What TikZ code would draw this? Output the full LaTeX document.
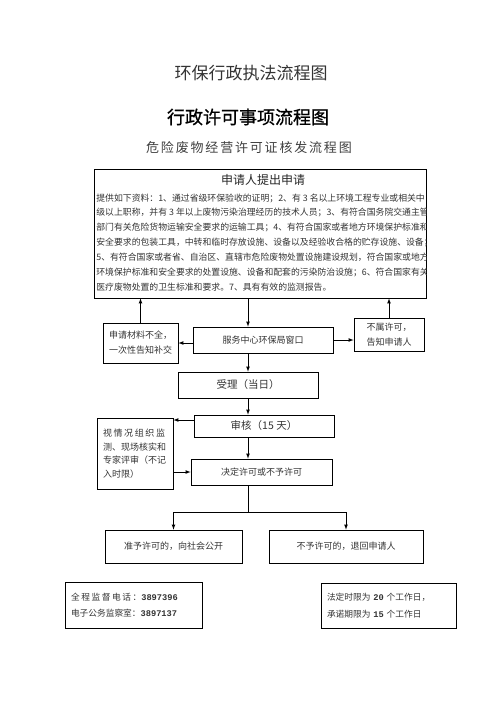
\documentclass[tikz,border=0pt]{standalone}
\usepackage{fontspec}
\setmainfont{Noto Sans CJK SC}
\newfontfamily\spacedfont[LetterSpace=18]{Noto Sans CJK SC}
\newfontfamily\widefont[LetterSpace=14]{Noto Sans CJK SC}
\newfontfamily\boldfont[FakeBold=0.8]{Noto Sans CJK SC}
\newfontfamily\numfont{Liberation Mono}
\usepackage{tikz}
\usetikzlibrary{arrows}
\tikzset{every picture/.style={line width=0.75pt}}
\tikzset{
  box/.style={draw, inner sep=1pt, align=center, text=black!80, font=\fontsize{9}{15}\selectfont},
  textline/.style={anchor=west, inner sep=0pt, text=black!80, font=\fontsize{8.85}{9}\selectfont},
  arr/.style={-latex}
}

\begin{document}
\begin{tikzpicture}[x=1pt,y=1pt,yscale=-1,xscale=1]
    \useasboundingbox (0,0) rectangle (496,702);
    \node (t1) at (251,73) [text=black!80, font=\fontsize{17}{17}\selectfont] {环保行政执法流程图};
    \node (t2) at (248,117) [font=\boldfont\fontsize{18}{18}\selectfont] {行政许可事项流程图};
    \node (t3) at (249,148) [text=black!75, font=\widefont\fontsize{13}{13}\selectfont] {危险废物经营许可证核发流程图};
    \node (apply) at (260,233.5) [draw, minimum width=332pt, minimum height=129pt] {};
    \node (head) at (263,180) [text=black!85, font=\fontsize{12}{12}\selectfont] {申请人提出申请};
    \begin{scope}
    \clip (apply.north west) rectangle (apply.south east);
    \node (l1) at (96,198) [textline] {提供如下资料：1、通过省级环保验收的证明；2、有 3 名以上环境工程专业或相关中};
    \node (l2) at (96,212.8) [textline] {级以上职称，并有 3 年以上废物污染治理经历的技术人员；3、有符合国务院交通主管};
    \node (l3) at (96,227.6) [textline] {部门有关危险货物运输安全要求的运输工具；4、有符合国家或者地方环境保护标准和};
    \node (l4) at (96,242.4) [textline] {安全要求的包装工具，中转和临时存放设施、设备以及经验收合格的贮存设施、设备；};
    \node (l5) at (96,257.2) [textline] {5、有符合国家或者省、自治区、直辖市危险废物处置设施建设规划，符合国家或地方};
    \node (l6) at (96,272) [textline] {环境保护标准和安全要求的处置设施、设备和配套的污染防治设施；6、符合国家有关};
    \node (l7) at (96,286.8) [textline] {医疗废物处置的卫生标准和要求。7、具有有效的监测报告。};
    \end{scope}
    \node (lack) at (140.5,343) [box, minimum width=75pt, minimum height=40pt] {申请材料不全，\\一次性告知补交};
    \node (window) at (263,340) [box, minimum width=140pt, minimum height=26pt] {服务中心环保局窗口};
    \node (notlic) at (389,334.5) [box, minimum width=70pt, minimum height=33pt] {不属许可，\\告知申请人};
    \node (accept) at (248,385) [box, minimum width=140pt, minimum height=26pt, font=\fontsize{10.5}{12}\selectfont] {受理（当日）};
    \node (review) at (264,426) [box, minimum width=140pt, minimum height=22pt, font=\fontsize{10.5}{12}\selectfont] {审核（15 天）};
    \node (expert) at (135,453.5) [box, text width=64pt, inner xsep=6pt, minimum height=71pt, align=left, font=\fontsize{9}{13.7}\selectfont] {{\spacedfont 视情况组织监}\\测、现场核实和\\专家评审（不记\\入时限）};
    \node (decide) at (261.5,472) [box, minimum width=141pt, minimum height=26pt] {决定许可或不予许可};
    \coordinate (split) at (248,512);
    \node (grant) at (173.5,546.5) [box, minimum width=137pt, minimum height=33pt] {准予许可的，向社会公开};
    \node (refuse) at (346,546.5) [box, minimum width=154pt, minimum height=33pt] {不予许可的，退回申请人};
    \node (phone) at (133.5,605) [box, text width=125pt, inner xsep=6pt, minimum height=46pt, align=left, font=\fontsize{8.7}{16.5}\selectfont] {{\spacedfont 全程监督电话：}{\numfont\bfseries 3897396}\\电子公务监察室：{\numfont\bfseries 3897137}};
    \node (limit) at (388.5,605.5) [box, text width=123pt, inner xsep=6pt, minimum height=45pt, align=left, font=\fontsize{8.7}{16.5}\selectfont] {法定时限为 {\numfont\bfseries 20} 个工作日，\\承诺期限为 {\numfont\bfseries 15} 个工作日};
    \draw[arr] (apply.south -| accept) -- (window.north -| accept);
    \draw[arr] (window.west |- lack) -- (lack.east);
    \draw[arr] (window.east) -- (notlic.west |- window.east);
    \draw[arr] (lack.north) -- (lack.north |- apply.south);
    \draw[arr] (notlic.north) -- (notlic.north |- apply.south);
    \draw[arr] (window.south -| accept) -- (accept.north);
    \draw[arr] (accept.south) -- (review.north -| accept);
    \draw[arr] ([yshift=-6pt]review.west) -- ([yshift=-6pt]review.west -| expert.east);
    \draw[arr] (expert.east |- decide) -- (decide.west);
    \draw[arr] (review.south -| accept) -- (decide.north -| accept);
    \draw (decide.south -| accept) -- (split);
    \draw[arr] (split) -| (grant.north);
    \draw[arr] (split) -| (refuse.north);
\end{tikzpicture}
\end{document}
